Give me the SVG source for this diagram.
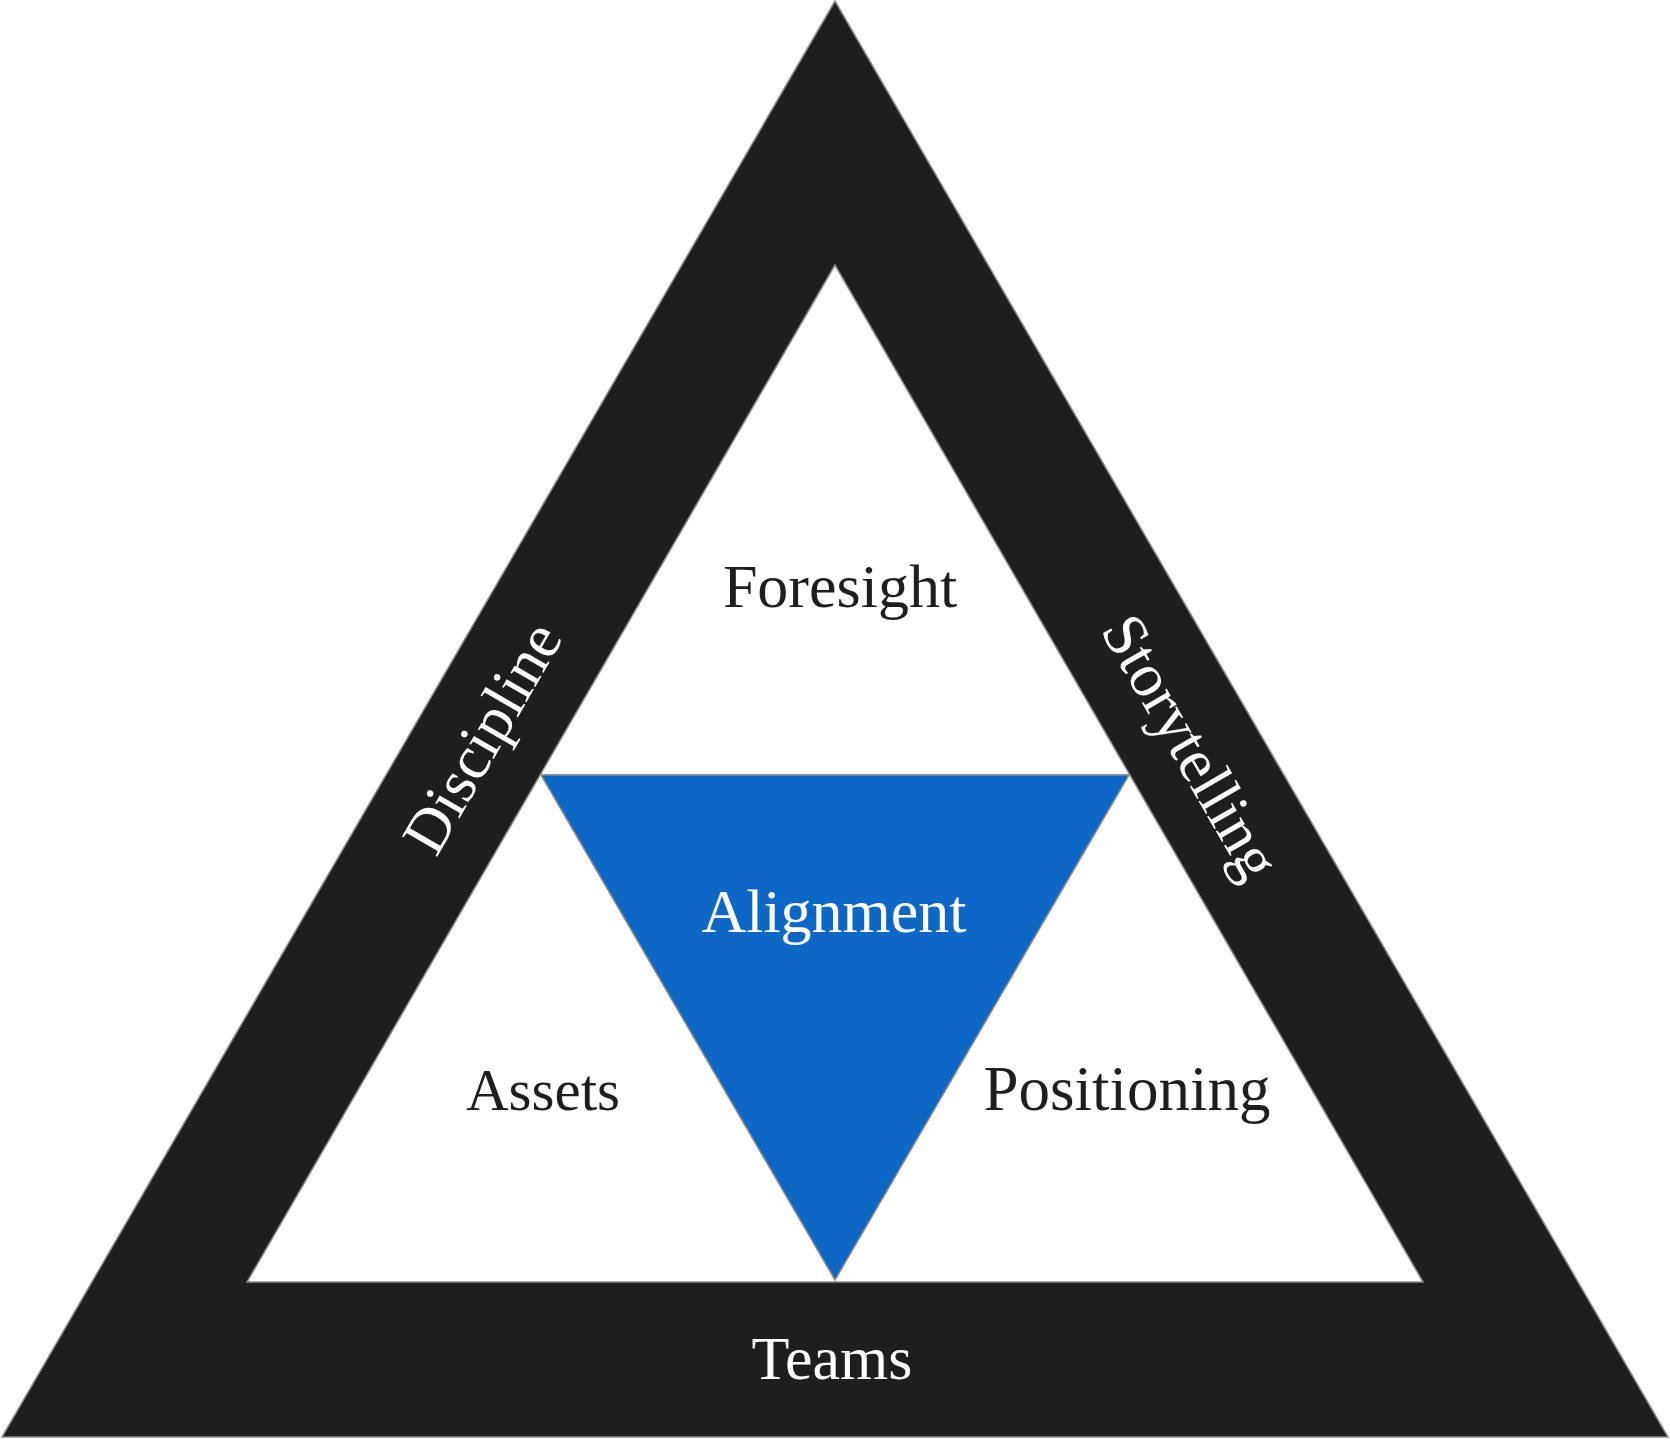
<svg xmlns="http://www.w3.org/2000/svg" width="1670" height="1440" viewBox="0 0 1670 1440">
<style>
.edge{stroke:#8a8a8a;stroke-width:1.5;stroke-linejoin:miter}
.lbl{font-family:"Liberation Serif","DejaVu Serif",serif;font-size:62px;text-anchor:middle}
.dark{fill:#1e1e1e}
.light{fill:#ffffff}
</style>
<rect width="1670" height="1440" fill="#ffffff"/>
<g id="outer">
<polygon class="edge" points="835,1 2,1437 1668,1437" fill="#1e1e1e"/>
</g>
<g id="inner">
<polygon class="edge" points="835,265 247,1282 1423,1282" fill="#ffffff"/>
</g>
<g id="connectors">
<line class="edge" x1="541" y1="775" x2="1129" y2="775"/>
</g>
<g id="alignment">
<polygon class="edge" points="541,775 1129,775 835,1280" fill="#0d67c5"/>
<text class="lbl light" x="834" y="932">Alignment</text>
</g>
<g id="foresight"><text class="lbl dark" x="840" y="607">Foresight</text></g>
<g id="assets"><text class="lbl dark" x="543" y="1110" style="font-size:59px">Assets</text></g>
<g id="positioning"><text class="lbl dark" x="1127" y="1110" style="font-size:63px">Positioning</text></g>
<g id="teams"><text class="lbl light" x="832" y="1379">Teams</text></g>
<g id="discipline"><text class="lbl light" transform="translate(500,748) rotate(-60)" x="0" y="0">Discipline</text></g>
<g id="storytelling"><text class="lbl light" transform="translate(1173,757) rotate(60)" x="0" y="0">Storytelling</text></g>
</svg>
